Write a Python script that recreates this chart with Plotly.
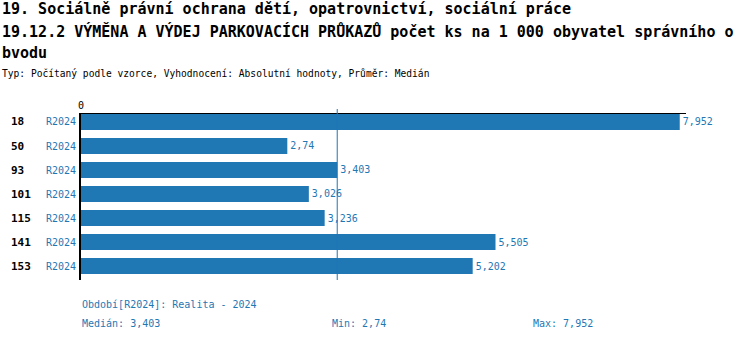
import plotly.graph_objects as go

categories = ["18", "50", "93", "101", "115", "141", "153"]
period_labels = ["R2024"] * 7
values = [7.952, 2.74, 3.403, 3.026, 3.236, 5.505, 5.202]
value_labels = ["7,952", "2,74", "3,403", "3,026", "3,236", "5,505", "5,202"]
median_value = 3.403

title_lines = [
    "19. Sociálně právní ochrana dětí, opatrovnictví, sociální práce",
    "19.12.2 VÝMĚNA A VÝDEJ PARKOVACÍCH PRŮKAZŮ počet ks na 1 000 obyvatel správního o",
    "bvodu",
]
subtitle = "Typ: Počítaný podle vzorce, Vyhodnocení: Absolutní hodnoty, Průměr: Medián"
period_note = "Období[R2024]: Realita - 2024"
stats = [("Medián: 3,403", 80), ("Min: 2,74", 330), ("Max: 7,952", 531)]

W, H = 750, 342
L, R, T, B = 81, 64, 114, 62
pw, ph = W - L - R, H - T - B
BLUE = "#1f77b4"
MONO = "DejaVu Sans Mono"

def px_x(x):
    return (x - L) / pw

def px_y(y):
    return (H - B - y) / ph

ys = list(range(len(categories)))

fig = go.Figure()
fig.add_trace(go.Bar(
    x=values, y=ys, orientation="h", width=0.667,
    marker=dict(color=BLUE, line=dict(width=0)),
    text=value_labels, textposition="outside",
    textfont=dict(color=BLUE, size=10, family=MONO),
    cliponaxis=False, hoverinfo="skip",
))

ann = []
for i, line in enumerate(title_lines):
    ann.append(dict(text=line, xref="paper", yref="paper", x=px_x(0), y=px_y([9, 31, 53][i]),
                    xanchor="left", yanchor="middle", showarrow=False,
                    font=dict(family=MONO, size=15, color="black", weight="bold")))
ann.append(dict(text=subtitle, xref="paper", yref="paper", x=px_x(0), y=px_y(73),
                xanchor="left", yanchor="middle", showarrow=False,
                font=dict(family=MONO, size=9.6, color="black")))
for i, (c, p) in enumerate(zip(categories, period_labels)):
    ann.append(dict(text=c, xref="paper", yref="y", x=px_x(9), y=i, xanchor="left",
                    yanchor="middle", showarrow=False,
                    font=dict(family=MONO, size=11, color="black", weight="bold")))
    ann.append(dict(text=p, xref="paper", yref="y", x=px_x(78), y=i, xanchor="right",
                    yanchor="middle", showarrow=False,
                    font=dict(family=MONO, size=10, color=BLUE)))
ann.append(dict(text=period_note, xref="paper", yref="paper", x=px_x(80), y=px_y(304),
                xanchor="left", yanchor="middle", showarrow=False,
                font=dict(family=MONO, size=10, color=BLUE)))
for t, xp in stats:
    ann.append(dict(text=t, xref="paper", yref="paper", x=px_x(xp), y=px_y(323),
                    xanchor="left", yanchor="middle", showarrow=False,
                    font=dict(family=MONO, size=10, color=BLUE)))

shapes = [dict(type="line", xref="x", yref="paper", x0=median_value, x1=median_value,
               y0=px_y(280), y1=px_y(109), line=dict(color=BLUE, width=1))]

fig.update_layout(
    width=W, height=H, margin=dict(l=L, r=R, t=T, b=B),
    paper_bgcolor="white", plot_bgcolor="white", showlegend=False,
    annotations=ann, shapes=shapes,
    xaxis=dict(range=[0, 8.035], side="top", showgrid=False, zeroline=False,
               showline=True, linecolor="black", linewidth=1,
               tickvals=[0], ticktext=["0"], ticks="", ticklen=0,
               tickfont=dict(family=MONO, size=10, color="black")),
    yaxis=dict(range=[6.583, -0.333], showgrid=False, zeroline=False,
               showline=True, linecolor="black", linewidth=2,
               showticklabels=False, ticks=""),
)
fig.write_html("out.html")
